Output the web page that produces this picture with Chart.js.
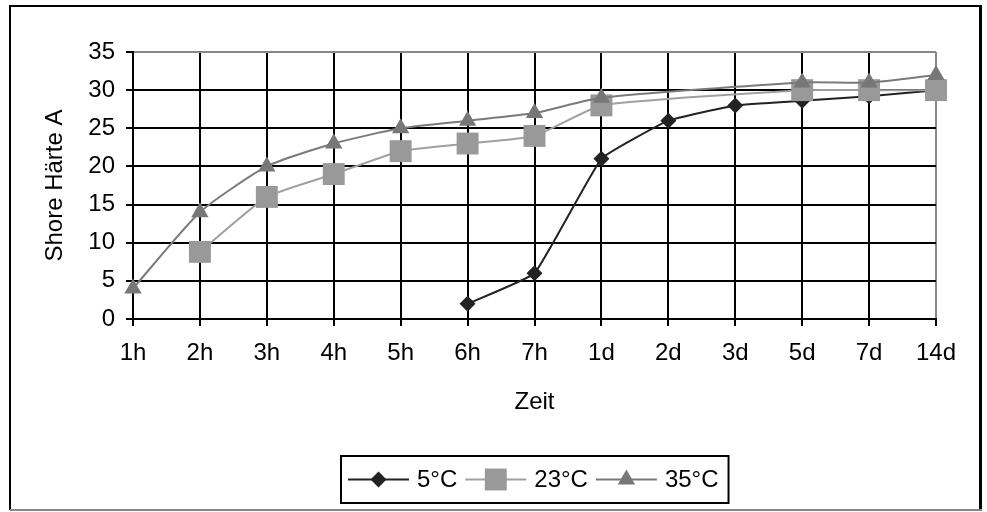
<!DOCTYPE html>
<html>
<head>
<meta charset="utf-8">
<script src="https://cdn.jsdelivr.net/npm/chart.js@4"></script>
<style>
  html, body { margin: 0; padding: 0; background: #fff; }
  #wrap { position: relative; width: 987px; height: 512px; }
</style>
</head>
<body>
<div id="wrap"><canvas id="chart"></canvas></div>
<script>
// Zeitpunkte (x-Achse)
const zeiten = ['1h', '2h', '3h', '4h', '5h', '6h', '7h', '1d', '2d', '3d', '5d', '7d', '14d'];
// Shore Härte A je Temperatur
const haerte5 = [null, null, null, null, null, 2, 6, 21, 26, 28, 28.6, 29.2, 30];
const haerte23 = [null, 8.8, 16, 19, 22, 23, 24, 28, null, null, 30, 30, 30];
const haerte35 = [4, 14, 20, 23, 25, 26, 27, 29, null, null, 31, 31, 32];
const yTicks = [0, 5, 10, 15, 20, 25, 30, 35];

const FONT = 'Liberation Sans, Arial, sans-serif';

// Rahmen um das ganze Bild + weisser Hintergrund
const framePlugin = {
    id: 'frame',
    beforeDraw(chart) {
        const c = chart.ctx;
        c.save();
        c.fillStyle = '#fff';
        c.fillRect(0, 0, chart.width, chart.height);
        c.restore();
    },
    afterDraw(chart) {
        const c = chart.ctx;
        c.save();
        c.strokeStyle = '#000';
        c.lineWidth = 2;
        c.beginPath();
        c.moveTo(10, 510);
        c.lineTo(10, 6);
        c.lineTo(980, 6);
        c.stroke();
        c.lineWidth = 3;
        c.beginPath();
        c.moveTo(980.5, 5);
        c.lineTo(980.5, 510);
        c.stroke();
        c.strokeStyle = '#888';
        c.lineWidth = 2;
        c.beginPath();
        c.moveTo(10, 510);
        c.lineTo(982, 510);
        c.stroke();
        c.restore();
    }
};

// Legende wie im Original: Linie + Marker + Text, mit Kasten
const legendPlugin = {
    id: 'boxLegend',
    afterDraw(chart) {
        const c = chart.ctx;
        const lineLen = 61, gap = 8, padL = 7, padR = 10;
        const top = 456, height = 47;
        c.save();
        c.font = '24px ' + FONT;
        const items = chart.data.datasets.map(ds => ({ ds, w: c.measureText(ds.label).width }));
        let total = padL + padR;
        items.forEach((it, i) => { total += lineLen + gap + it.w + (i < items.length - 1 ? gap : 0); });
        const cx = (chart.chartArea.left + chart.chartArea.right) / 2;
        let x = Math.round(cx - total / 2);
        c.strokeStyle = '#000';
        c.lineWidth = 2;
        c.strokeRect(x, top, total, height);
        const midY = top + height / 2;
        x += padL;
        items.forEach(it => {
            const ds = it.ds;
            c.strokeStyle = ds.borderColor;
            c.lineWidth = ds.borderWidth;
            c.beginPath();
            c.moveTo(x, midY);
            c.lineTo(x + lineLen, midY);
            c.stroke();
            c.fillStyle = ds.pointBackgroundColor;
            c.strokeStyle = ds.pointBackgroundColor;
            Chart.helpers.drawPoint(c, {
                pointStyle: ds.pointStyle,
                radius: ds.pointRadius,
                borderWidth: 0,
                rotation: 0
            }, x + lineLen / 2, midY);
            x += lineLen + gap;
            c.fillStyle = '#000';
            c.textBaseline = 'middle';
            c.textAlign = 'left';
            c.fillText(ds.label, x, midY + 1);
            x += it.w + gap;
        });
        c.restore();
    }
};

new Chart(document.getElementById('chart'), {
    type: 'line',
    data: {
        labels: zeiten,
        datasets: [
            {
                label: '5°C',
                data: haerte5,
                borderColor: '#222',
                backgroundColor: '#222',
                pointBackgroundColor: '#222',
                pointBorderColor: '#222',
                pointStyle: 'rectRot',
                pointRadius: 8,
                borderWidth: 2,
                tension: 0.1,
                order: 2
            },
            {
                label: '23°C',
                data: haerte23,
                borderColor: '#a0a0a0',
                backgroundColor: '#999',
                pointBackgroundColor: '#999',
                pointBorderColor: '#999',
                pointStyle: 'rect',
                pointRadius: 15.5,
                borderWidth: 2,
                tension: 0.15,
                order: 1
            },
            {
                label: '35°C',
                data: haerte35,
                borderColor: '#7a7a7a',
                backgroundColor: '#777',
                pointBackgroundColor: '#777',
                pointBorderColor: '#777',
                pointStyle: 'triangle',
                pointRadius: 10,
                borderWidth: 2,
                tension: 0.2,
                order: 0
            }
        ]
    },
    options: {
        responsive: true,
        maintainAspectRatio: false,
        animation: false,
        devicePixelRatio: 1,
        datasets: {
            line: {
                spanGaps: true,
                clip: false,
                pointBorderWidth: 0,
                pointHoverRadius: 0
            }
        },
        layout: {
            autoPadding: false,
            padding: { top: 52, right: 51, left: 0, bottom: 83 }
        },
        plugins: {
            legend: { display: false },
            tooltip: { enabled: false }
        },
        scales: {
            x: {
                type: 'category',
                afterFit(scale) { scale.height = 110; },
                grid: {
                    color: ctx => ctx.index === zeiten.length - 1 ? '#888' : '#000',
                    tickColor: '#000',
                    lineWidth: 2,
                    tickLength: 7
                },
                border: { color: '#000', width: 2 },
                ticks: {
                    color: '#000',
                    font: { family: FONT, size: 24 },
                    padding: 13,
                    maxRotation: 0,
                    autoSkip: false
                },
                title: {
                    display: true,
                    text: 'Zeit',
                    color: '#000',
                    font: { family: FONT, size: 24 },
                    padding: { top: 0, bottom: 12 }
                }
            },
            y: {
                min: 0,
                max: 35,
                afterFit(scale) { scale.width = 133; },
                afterBuildTicks(scale) { scale.ticks = yTicks.map(v => ({ value: v })); },
                grid: {
                    color: ctx => ctx.tick && ctx.tick.value === 35 ? '#888' : '#000',
                    tickColor: '#000',
                    lineWidth: 2,
                    tickLength: 7
                },
                border: { color: '#000', width: 2 },
                ticks: {
                    color: '#000',
                    font: { family: FONT, size: 24 },
                    padding: 11
                },
                title: {
                    display: true,
                    text: 'Shore Härte A',
                    color: '#000',
                    font: { family: FONT, size: 24 },
                    padding: { top: 41, bottom: 0 }
                }
            }
        }
    },
    plugins: [framePlugin, legendPlugin]
});
</script>
</body>
</html>
